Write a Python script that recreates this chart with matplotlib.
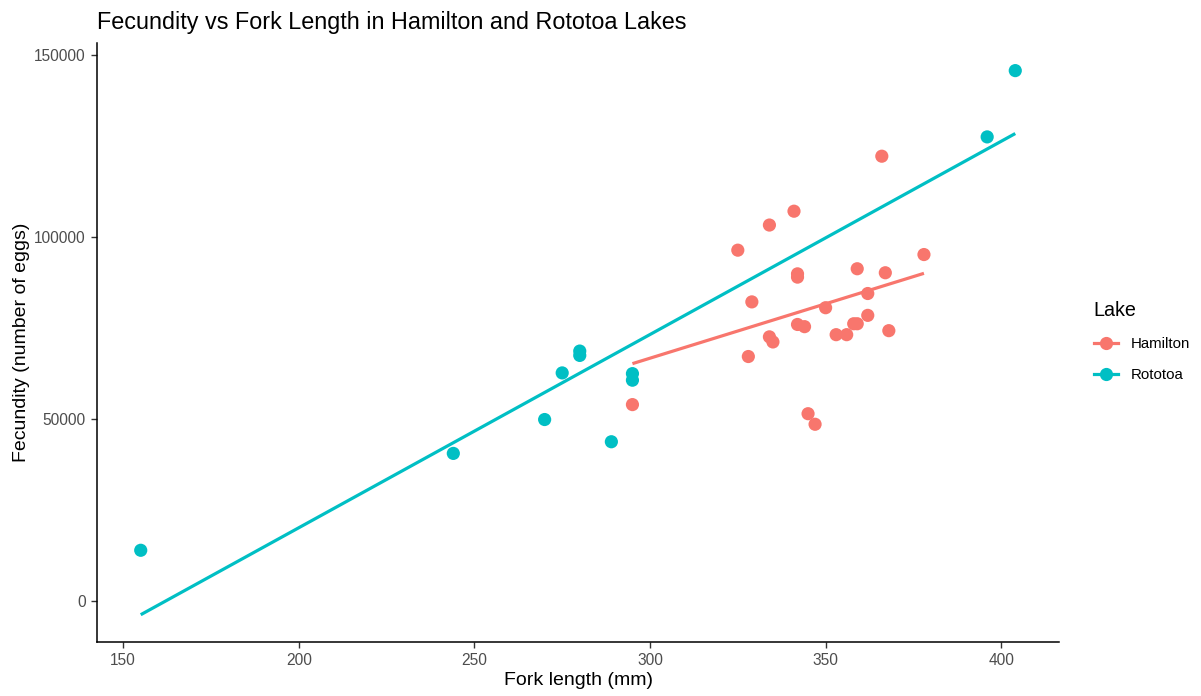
import numpy as np
import matplotlib
matplotlib.use("Agg")
import matplotlib.pyplot as plt
from matplotlib.lines import Line2D

plt.rcParams['font.family'] = ['Liberation Sans', 'DejaVu Sans']

# Fork length (mm) and fecundity (number of eggs) per fish
hamilton_length = [295, 325, 328, 329, 334, 334, 335, 341, 342, 342, 342, 344,
                   345, 347, 350, 353, 356, 358, 359, 359, 362, 362, 366, 367,
                   368, 378]
hamilton_fecundity = [53900, 96300, 67100, 82100, 103200, 72500, 71100, 107000,
                      89800, 88900, 75900, 75300, 51400, 48500, 80500, 73100,
                      73100, 76100, 76100, 91200, 84400, 78400, 122100, 90100,
                      74200, 95100]

rototoa_length = [155, 244, 270, 275, 280, 280, 289, 295, 295, 396, 404]
rototoa_fecundity = [13900, 40500, 49800, 62600, 68600, 67400, 43700, 62400,
                     60600, 127400, 145600]

lakes = ["Hamilton", "Rototoa"]
colors = {"Hamilton": "#F8766D", "Rototoa": "#00BFC4"}
x_ticks = [150, 200, 250, 300, 350, 400]
y_ticks = [0, 50000, 100000, 150000]

fig = plt.figure(figsize=(12.01, 6.96), dpi=100)
ax = fig.add_axes([97 / 1201, 1 - 641.7 / 696, (1059 - 97) / 1201, (641.7 - 43.3) / 696])

data = {
    "Hamilton": (np.array(hamilton_length, float), np.array(hamilton_fecundity, float)),
    "Rototoa": (np.array(rototoa_length, float), np.array(rototoa_fecundity, float)),
}

for lake in lakes:
    x, y = data[lake]
    ax.scatter(x, y, s=90, color=colors[lake], edgecolors="none", zorder=3)
    slope, intercept = np.polyfit(x, y, 1)
    xs = np.array([x.min(), x.max()])
    ax.plot(xs, intercept + slope * xs, color=colors[lake], lw=2.3,
            solid_capstyle="butt", zorder=2)

ax.set_xlim(142.55, 416.45)
ax.set_ylim(-11200, 153100)
ax.set_xticks(x_ticks)
ax.set_xticklabels([str(t) for t in x_ticks])
ax.set_yticks(y_ticks)
ax.set_yticklabels([str(t) for t in y_ticks])

for side in ("top", "right"):
    ax.spines[side].set_visible(False)
for side in ("left", "bottom"):
    ax.spines[side].set_linewidth(1.1)
    ax.spines[side].set_color("black")
ax.tick_params(axis="both", length=4, width=1, color="#333333",
               labelcolor="#4D4D4D", labelsize=11.2, pad=4)

ax.set_xlabel("Fork length (mm)", fontsize=14, color="black", labelpad=3)
ax.set_ylabel("Fecundity (number of eggs)", fontsize=14, color="black", labelpad=3)
fig.text(97 / 1201, 1 - 22 / 696, "Fecundity vs Fork Length in Hamilton and Rototoa Lakes",
         fontsize=16.8, color="black", ha="left", va="center")

handles = [Line2D([0], [0], color=colors[l], lw=2.3, marker="o", markersize=9.5,
                  markeredgewidth=0) for l in lakes]
leg = fig.legend(handles, lakes, title="Lake", loc="upper left",
                 bbox_to_anchor=(1080 / 1201, 1 - 287 / 696), frameon=False,
                 fontsize=10.8, title_fontsize=14.2, handlelength=1.6,
                 labelspacing=1.15, handletextpad=0.85)
leg._legend_box.align = "left"

fig.savefig("out.png", dpi=100)
